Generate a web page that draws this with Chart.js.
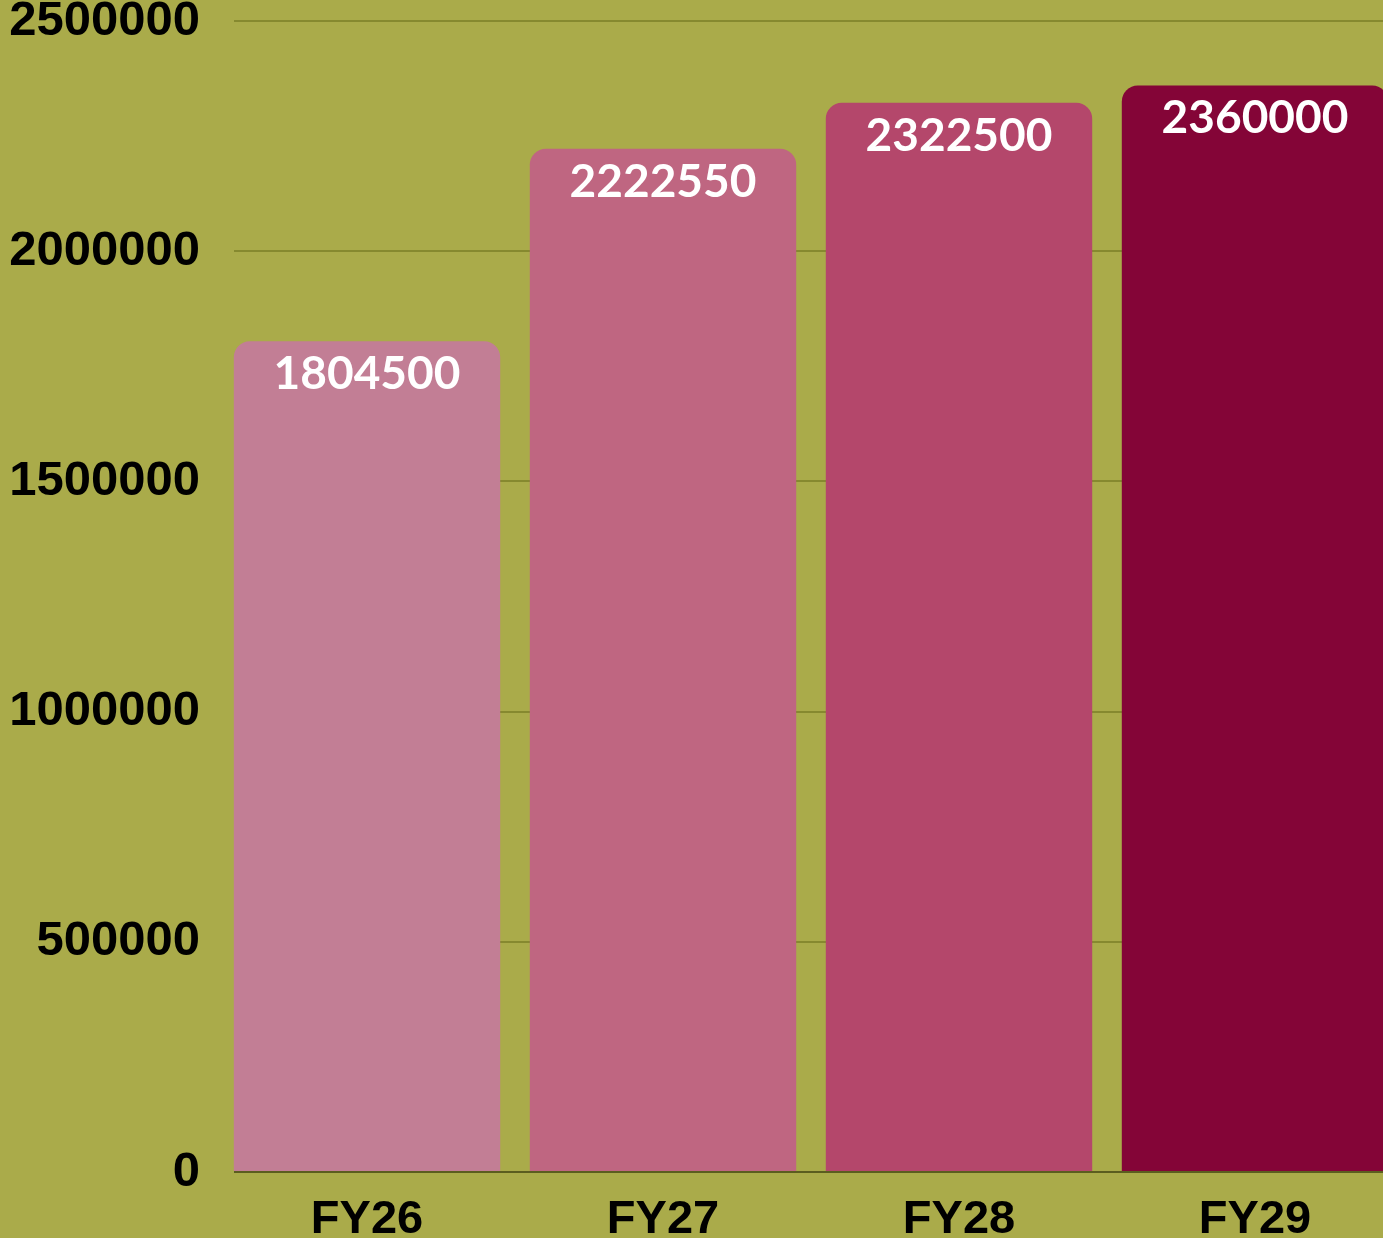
<!DOCTYPE html>
<html>
<head>
<meta charset="utf-8">
<script src="https://cdn.jsdelivr.net/npm/chart.js@4/dist/chart.umd.min.js"></script>
<style>
  html, body { margin: 0; padding: 0; overflow: hidden; background: #aaab4a; }
  #wrap { position: absolute; left: 0; top: 0; width: 1403px; height: 1238px; }
</style>
</head>
<body>
<div id="wrap"><canvas id="revenueChart" width="1403" height="1238"></canvas></div>
<script>
const years = ['FY26', 'FY27', 'FY28', 'FY29'];
const amounts = [1804500, 2222550, 2322500, 2360000];
const barColors = ['#c27e95', '#bf6681', '#b4476b', '#840537'];
const yTicks = [0, 500000, 1000000, 1500000, 2000000, 2500000];

// white value printed just under the top of each bar
const valueLabels = {
  id: 'valueLabels',
  afterDatasetsDraw(chart) {
    const ctx = chart.ctx;
    const meta = chart.getDatasetMeta(0);
    ctx.save();
    ctx.fillStyle = '#ffffff';
    ctx.font = 'bold 46px Lato, "DejaVu Sans", sans-serif';
    ctx.textAlign = 'center';
    ctx.textBaseline = 'middle';
    meta.data.forEach((bar, i) => {
      ctx.fillText(String(amounts[i]), bar.x, bar.y + 33);
    });
    ctx.restore();
  }
};

// grid lines start at the first bar's left edge, not at the axis
function gridColor(ctx, base) {
  const chart = ctx.chart;
  const area = chart.chartArea;
  if (!area) return base;
  const bar = chart.getDatasetMeta(0).data[0];
  const start = bar ? bar.x - bar.width / 2 : area.left;
  const g = chart.ctx.createLinearGradient(area.left, 0, area.right, 0);
  const stop = Math.min(1, Math.max(0, (start - area.left) / (area.right - area.left)));
  g.addColorStop(0, 'rgba(0,0,0,0)');
  g.addColorStop(stop, 'rgba(0,0,0,0)');
  g.addColorStop(stop, base);
  g.addColorStop(1, base);
  return g;
}

new Chart(document.getElementById('revenueChart'), {
  type: 'bar',
  data: {
    labels: years,
    datasets: [{
      data: amounts,
      backgroundColor: barColors,
      borderRadius: { topLeft: 16, topRight: 16, bottomLeft: 0, bottomRight: 0 },
      borderSkipped: 'bottom',
      barPercentage: 0.9,
      categoryPercentage: 1
    }]
  },
  options: {
    responsive: false,
    animation: false,
    layout: { padding: { top: 21, right: 0, bottom: 0, left: 0 } },
    plugins: { legend: { display: false }, tooltip: { enabled: false } },
    scales: {
      x: {
        grid: { display: false },
        border: { display: false },
        ticks: {
          color: '#000000',
          font: { family: '"Liberation Sans", Arial, sans-serif', size: 47, weight: 'bold' },
          padding: 12
        },
        afterFit(scale) {
          scale.height = 66;
          scale.paddingLeft = 0;
          scale.paddingRight = 0;
        }
      },
      y: {
        min: 0,
        max: 2500000,
        afterBuildTicks(scale) {
          scale.ticks = yTicks.map(v => ({ value: v }));
        },
        grid: {
          drawTicks: false,
          lineWidth: 2,
          color: ctx => gridColor(ctx, ctx.tick && ctx.tick.value === 0 ? '#5b5d1f' : '#86892f')
        },
        border: { display: false },
        ticks: {
          color: '#000000',
          font: { family: '"Liberation Sans", Arial, sans-serif', size: 49, weight: 'bold', lineHeight: 1 },
          padding: 19,
          callback: v => String(v)
        },
        afterFit(scale) {
          scale.width = 219;
          scale.paddingTop = 0;
          scale.paddingBottom = 0;
        }
      }
    }
  },
  plugins: [valueLabels]
});
</script>
</body>
</html>
